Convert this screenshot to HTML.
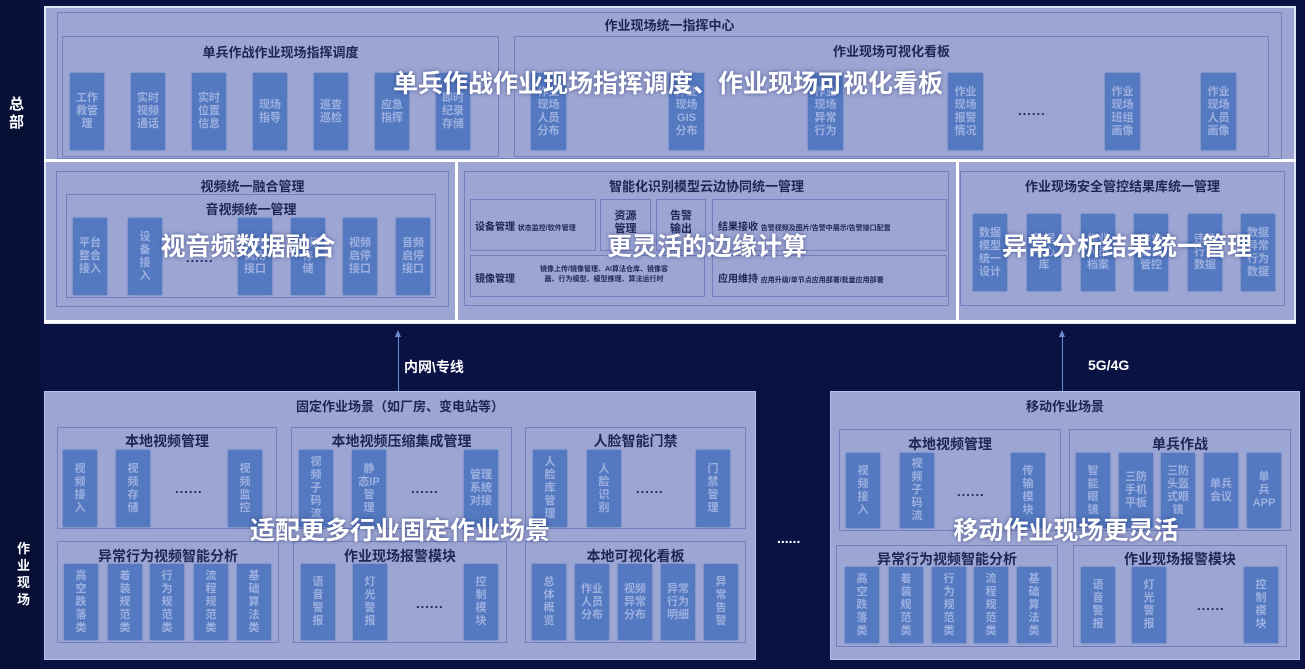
<!DOCTYPE html>
<html><head><meta charset="utf-8">
<style>
*{margin:0;padding:0;box-sizing:border-box}
body{width:1305px;height:669px;overflow:hidden;background:#0a1143;font-family:"Liberation Sans","Noto Sans CJK SC",sans-serif;position:relative}
div{position:absolute}
.pan{background:#9da6d3}
.bx{border:1.5px solid #7480bd}
.t{font-weight:bold;color:#1e2656;font-size:13px;text-align:center;white-space:nowrap}
.p{background:#5479c0;color:#9db0e0;font-weight:bold;font-size:11px;line-height:13px;text-align:center;display:flex;align-items:center;justify-content:center;box-shadow:0 0 2px #5479c0}
.ov{color:#fff;font-weight:bold;font-size:25px;white-space:nowrap;text-shadow:0 0 4px rgba(40,50,110,.7);transform:translateX(-50%)}
.d{color:#1e2656;font-weight:bold;font-size:13px;letter-spacing:1px}
.wl{background:#fff}
.lbl{color:#fff;font-weight:bold;font-size:14px}
</style></head><body>
<div style="left:0;top:0;width:40px;height:669px;background:#071034"></div>
<!-- top panel -->
<div class="pan" style="left:44px;top:6px;width:1252px;height:318px;border:2px solid #dfe4f6"></div>
<div class="wl" style="left:44px;top:159px;width:1252px;height:3px"></div>
<div class="wl" style="left:455px;top:160px;width:3px;height:162px"></div>
<div class="wl" style="left:956px;top:160px;width:3px;height:162px"></div>
<div class="wl" style="left:44px;top:320px;width:1252px;height:3px"></div>
<div class="bx" style="left:57px;top:12px;width:1225px;height:147px"></div>
<div class="t" style="left:57px;top:15px;width:1225px">作业现场统一指挥中心</div>
<div class="bx" style="left:62px;top:36px;width:437px;height:121px"></div>
<div class="t" style="left:62px;top:42px;width:437px">单兵作战作业现场指挥调度</div>
<div class="p" style="left:70px;top:73px;width:34px;height:77px">工作<br>救管<br>理</div>
<div class="p" style="left:131px;top:73px;width:34px;height:77px">实时<br>视频<br>通话</div>
<div class="p" style="left:192px;top:73px;width:34px;height:77px">实时<br>位置<br>信息</div>
<div class="p" style="left:253px;top:73px;width:34px;height:77px">现场<br>指导</div>
<div class="p" style="left:314px;top:73px;width:34px;height:77px">巡查<br>巡检</div>
<div class="p" style="left:375px;top:73px;width:34px;height:77px">应急<br>指挥</div>
<div class="p" style="left:436px;top:73px;width:34px;height:77px">即时<br>纪录<br>存储</div>
<div class="bx" style="left:514px;top:36px;width:755px;height:121px"></div>
<div class="t" style="left:514px;top:41px;width:755px">作业现场可视化看板</div>
<div class="p" style="left:531px;top:73px;width:35px;height:77px">作业<br>现场<br>人员<br>分布</div>
<div class="p" style="left:669px;top:73px;width:35px;height:77px">作业<br>现场<br>GIS<br>分布</div>
<div class="p" style="left:808px;top:73px;width:35px;height:77px">作业<br>现场<br>异常<br>行为</div>
<div class="p" style="left:948px;top:73px;width:35px;height:77px">作业<br>现场<br>报警<br>情况</div>
<div class="d" style="left:1018px;top:103px">......</div>
<div class="p" style="left:1105px;top:73px;width:35px;height:77px">作业<br>现场<br>班组<br>画像</div>
<div class="p" style="left:1201px;top:73px;width:35px;height:77px">作业<br>现场<br>人员<br>画像</div>
<div class="ov" style="left:668px;top:64px">单兵作战作业现场指挥调度、作业现场可视化看板</div>
<!-- lower left -->
<div class="bx" style="left:56px;top:171px;width:393px;height:136px"></div>
<div class="t" style="left:56px;top:176px;width:393px">视频统一融合管理</div>
<div class="bx" style="left:66px;top:194px;width:370px;height:104px"></div>
<div class="t" style="left:66px;top:199px;width:370px">音视频统一管理</div>
<div class="p" style="left:73px;top:218px;width:34px;height:77px">平台<br>整合<br>接入</div>
<div class="p" style="left:128px;top:218px;width:34px;height:77px">设<br>备<br>接<br>入</div>
<div class="d" style="left:186px;top:250px">......</div>
<div class="p" style="left:238px;top:218px;width:34px;height:77px">视频<br>调用<br>接口</div>
<div class="p" style="left:291px;top:218px;width:34px;height:77px">视频<br>存<br>储</div>
<div class="p" style="left:343px;top:218px;width:34px;height:77px">视频<br>启停<br>接口</div>
<div class="p" style="left:396px;top:218px;width:34px;height:77px">音频<br>启停<br>接口</div>
<div class="ov" style="left:248px;top:227px">视音频数据融合</div>
<!-- lower middle -->
<div class="bx" style="left:464px;top:171px;width:485px;height:135px"></div>
<div class="t" style="left:464px;top:176px;width:485px">智能化识别模型云边协同统一管理</div>
<div class="bx" style="left:470px;top:199px;width:126px;height:52px"></div>
<div class="t" style="left:475px;top:218px;font-size:10px">设备管理 <span style="font-size:7px">状态监控/软件管理</span></div>
<div class="bx" style="left:600px;top:199px;width:51px;height:52px"></div>
<div class="t" style="left:600px;top:210px;width:51px;font-size:11px;line-height:13px">资源<br>管理</div>
<div class="bx" style="left:656px;top:199px;width:50px;height:52px"></div>
<div class="t" style="left:656px;top:210px;width:50px;font-size:11px;line-height:13px">告警<br>输出</div>
<div class="bx" style="left:712px;top:199px;width:235px;height:52px"></div>
<div class="t" style="left:718px;top:218px;font-size:10px">结果接收 <span style="font-size:7px">告警视频及图片/告警中展示/告警接口配置</span></div>
<div class="bx" style="left:470px;top:255px;width:235px;height:42px"></div>
<div class="t" style="left:475px;top:270px;font-size:10px">镜像管理</div>
<div class="t" style="left:540px;top:265px;font-size:7px;line-height:10px">镜像上传/镜像管理、AI算法仓库、镜像容<br>器、行为模型、模型推理、算法运行时</div>
<div class="bx" style="left:712px;top:255px;width:235px;height:42px"></div>
<div class="t" style="left:718px;top:270px;font-size:10px">应用维持 <span style="font-size:7px">应用升级/单节点应用部署/批量应用部署</span></div>
<div class="ov" style="left:707px;top:227px">更灵活的边缘计算</div>
<!-- lower right -->
<div class="bx" style="left:960px;top:171px;width:325px;height:135px"></div>
<div class="t" style="left:960px;top:176px;width:325px">作业现场安全管控结果库统一管理</div>
<div class="p" style="left:973px;top:214px;width:34px;height:77px">数据<br>模型<br>统一<br>设计</div>
<div class="p" style="left:1027px;top:214px;width:34px;height:77px">数据<br>中心<br>库</div>
<div class="p" style="left:1081px;top:214px;width:34px;height:77px">作业<br>人员<br>档案</div>
<div class="p" style="left:1134px;top:214px;width:34px;height:77px">作业<br>任务<br>管控</div>
<div class="p" style="left:1188px;top:214px;width:34px;height:77px">违章<br>行为<br>数据</div>
<div class="p" style="left:1241px;top:214px;width:34px;height:77px">数据<br>异常<br>行为<br>数据</div>
<div class="ov" style="left:1127px;top:227px">异常分析结果统一管理</div>
<!-- side labels -->
<div class="lbl" style="left:9px;top:96px;line-height:18px;font-size:15px">总<br>部</div>
<div class="lbl" style="left:17px;top:540px;line-height:17px;font-size:13px">作<br>业<br>现<br>场</div>
<!-- arrows -->
<div style="left:398px;top:334px;width:1px;height:57px;background:#6d8fd0"></div>
<div style="left:395px;top:330px;width:0;height:0;border-left:3px solid transparent;border-right:3px solid transparent;border-bottom:7px solid #6d8fd0"></div>
<div class="lbl" style="left:404px;top:357px">内网\专线</div>
<div style="left:1062px;top:334px;width:1px;height:57px;background:#6d8fd0"></div>
<div style="left:1059px;top:330px;width:0;height:0;border-left:3px solid transparent;border-right:3px solid transparent;border-bottom:7px solid #6d8fd0"></div>
<div class="lbl" style="left:1088px;top:357px">5G/4G</div>
<!-- bottom left -->
<div class="pan" style="left:44px;top:391px;width:712px;height:269px;border:1px solid #b7bfe4"></div>
<div class="t" style="left:44px;top:396px;width:712px">固定作业场景（如厂房、变电站等）</div>
<div class="bx" style="left:57px;top:427px;width:220px;height:102px"></div>
<div class="t" style="left:57px;top:431px;width:220px;font-size:14px">本地视频管理</div>
<div class="p" style="left:63px;top:450px;width:34px;height:77px">视<br>频<br>接<br>入</div>
<div class="p" style="left:116px;top:450px;width:34px;height:77px">视<br>频<br>存<br>储</div>
<div class="d" style="left:175px;top:481px">......</div>
<div class="p" style="left:228px;top:450px;width:34px;height:77px">视<br>频<br>监<br>控</div>
<div class="bx" style="left:291px;top:427px;width:221px;height:102px"></div>
<div class="t" style="left:291px;top:431px;width:221px;font-size:14px">本地视频压缩集成管理</div>
<div class="p" style="left:299px;top:450px;width:34px;height:77px">视<br>频<br>子<br>码<br>流</div>
<div class="p" style="left:352px;top:450px;width:34px;height:77px">静<br>态IP<br>管<br>理</div>
<div class="d" style="left:411px;top:481px">......</div>
<div class="p" style="left:464px;top:450px;width:34px;height:77px">管理<br>系统<br>对接</div>
<div class="bx" style="left:525px;top:427px;width:221px;height:102px"></div>
<div class="t" style="left:525px;top:431px;width:221px;font-size:14px">人脸智能门禁</div>
<div class="p" style="left:533px;top:450px;width:34px;height:77px">人<br>脸<br>库<br>管<br>理</div>
<div class="p" style="left:587px;top:450px;width:34px;height:77px">人<br>脸<br>识<br>别</div>
<div class="d" style="left:636px;top:481px">......</div>
<div class="p" style="left:696px;top:450px;width:34px;height:77px">门<br>禁<br>管<br>理</div>
<div class="bx" style="left:57px;top:541px;width:222px;height:102px"></div>
<div class="t" style="left:57px;top:546px;width:222px;font-size:14px">异常行为视频智能分析</div>
<div class="p" style="left:64px;top:564px;width:34px;height:76px">高<br>空<br>跌<br>落<br>类</div>
<div class="p" style="left:108px;top:564px;width:34px;height:76px">着<br>装<br>规<br>范<br>类</div>
<div class="p" style="left:150px;top:564px;width:34px;height:76px">行<br>为<br>规<br>范<br>类</div>
<div class="p" style="left:194px;top:564px;width:34px;height:76px">流<br>程<br>规<br>范<br>类</div>
<div class="p" style="left:237px;top:564px;width:34px;height:76px">基<br>础<br>算<br>法<br>类</div>
<div class="bx" style="left:293px;top:541px;width:214px;height:102px"></div>
<div class="t" style="left:293px;top:546px;width:214px;font-size:14px">作业现场报警模块</div>
<div class="p" style="left:301px;top:564px;width:34px;height:76px">语<br>音<br>警<br>报</div>
<div class="p" style="left:353px;top:564px;width:34px;height:76px">灯<br>光<br>警<br>报</div>
<div class="d" style="left:416px;top:596px">......</div>
<div class="p" style="left:464px;top:564px;width:34px;height:76px">控<br>制<br>模<br>块</div>
<div class="bx" style="left:525px;top:541px;width:221px;height:102px"></div>
<div class="t" style="left:525px;top:546px;width:221px;font-size:14px">本地可视化看板</div>
<div class="p" style="left:532px;top:564px;width:34px;height:76px">总<br>体<br>概<br>览</div>
<div class="p" style="left:575px;top:564px;width:34px;height:76px">作业<br>人员<br>分布</div>
<div class="p" style="left:618px;top:564px;width:34px;height:76px">视频<br>异常<br>分布</div>
<div class="p" style="left:661px;top:564px;width:34px;height:76px">异常<br>行为<br>明细</div>
<div class="p" style="left:704px;top:564px;width:34px;height:76px">异<br>常<br>告<br>警</div>
<div class="ov" style="left:400px;top:511px">适配更多行业固定作业场景</div>
<div class="lbl" style="left:777px;top:530px">......</div>
<!-- bottom right -->
<div class="pan" style="left:830px;top:391px;width:470px;height:269px;border:1px solid #b7bfe4"></div>
<div class="t" style="left:830px;top:396px;width:548px;transform:translateX(-39px)">移动作业场景</div>
<div class="bx" style="left:839px;top:429px;width:222px;height:102px"></div>
<div class="t" style="left:839px;top:434px;width:222px;font-size:14px">本地视频管理</div>
<div class="p" style="left:846px;top:453px;width:34px;height:75px">视<br>频<br>接<br>入</div>
<div class="p" style="left:900px;top:453px;width:34px;height:75px">视<br>频<br>子<br>码<br>流</div>
<div class="d" style="left:957px;top:484px">......</div>
<div class="p" style="left:1011px;top:453px;width:34px;height:75px">传<br>输<br>模<br>块</div>
<div class="bx" style="left:1069px;top:429px;width:222px;height:102px"></div>
<div class="t" style="left:1069px;top:434px;width:222px;font-size:14px">单兵作战</div>
<div class="p" style="left:1076px;top:453px;width:34px;height:75px">智<br>能<br>眼<br>镜</div>
<div class="p" style="left:1119px;top:453px;width:34px;height:75px">三防<br>手机<br>平板</div>
<div class="p" style="left:1161px;top:453px;width:34px;height:75px">三防<br>头盔<br>式眼<br>镜</div>
<div class="p" style="left:1204px;top:453px;width:34px;height:75px">单兵<br>会议</div>
<div class="p" style="left:1247px;top:453px;width:34px;height:75px">单<br>兵<br>APP</div>
<div class="bx" style="left:836px;top:545px;width:222px;height:102px"></div>
<div class="t" style="left:836px;top:549px;width:222px;font-size:14px">异常行为视频智能分析</div>
<div class="p" style="left:845px;top:567px;width:34px;height:76px">高<br>空<br>跌<br>落<br>类</div>
<div class="p" style="left:889px;top:567px;width:34px;height:76px">着<br>装<br>规<br>范<br>类</div>
<div class="p" style="left:932px;top:567px;width:34px;height:76px">行<br>为<br>规<br>范<br>类</div>
<div class="p" style="left:974px;top:567px;width:34px;height:76px">流<br>程<br>规<br>范<br>类</div>
<div class="p" style="left:1017px;top:567px;width:34px;height:76px">基<br>础<br>算<br>法<br>类</div>
<div class="bx" style="left:1073px;top:545px;width:214px;height:102px"></div>
<div class="t" style="left:1073px;top:549px;width:214px;font-size:14px">作业现场报警模块</div>
<div class="p" style="left:1081px;top:567px;width:34px;height:76px">语<br>音<br>警<br>报</div>
<div class="p" style="left:1132px;top:567px;width:34px;height:76px">灯<br>光<br>警<br>报</div>
<div class="d" style="left:1197px;top:598px">......</div>
<div class="p" style="left:1244px;top:567px;width:34px;height:76px">控<br>制<br>模<br>块</div>
<div class="ov" style="left:1066px;top:511px">移动作业现场更灵活</div>
</body></html>
